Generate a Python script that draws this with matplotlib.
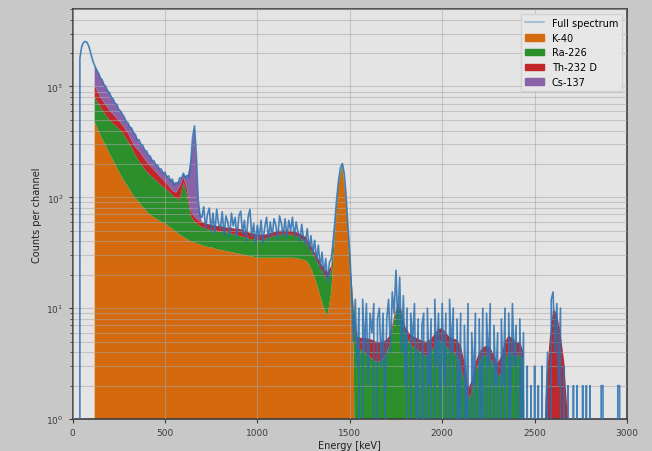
import matplotlib
matplotlib.use('Agg')
import matplotlib.pyplot as plt
from matplotlib.lines import Line2D
from matplotlib.patches import Patch
import numpy as np

# ----------------------------------------------------------------------------------------------------------------------
# measured spectrum, 10 keV channels starting at 0 keV
full_spectrum = [
    0, 0, 0, 0, 1800, 2300, 2500, 2550, 2480, 2250,
    1950, 1700, 1540, 1420, 1330, 1200, 1150, 1040, 1000, 910,
    880, 800, 770, 700, 690, 620, 600, 560, 530, 480,
    470, 430, 420, 380, 370, 330, 330, 300, 295, 265,
    262, 240, 236, 215, 214, 196, 195, 180, 180, 165,
    168, 152, 156, 140, 146, 128, 136, 132, 150, 148,
    165, 150, 158, 150, 210, 350, 440, 240, 95, 68,
    66, 82, 52, 70, 80, 50, 72, 47, 78, 58,
    52, 74, 45, 68, 60, 44, 72, 55, 66, 43,
    68, 75, 47, 62, 40, 66, 78, 44, 58, 38,
    56, 42, 62, 38, 54, 66, 41, 60, 44, 64,
    56, 42, 68, 58, 45, 64, 43, 62, 50, 66,
    44, 60, 48, 40, 57, 42, 38, 52, 34, 45,
    31, 41, 27, 37, 23, 32, 20, 28, 17, 26,
    28, 40, 62, 100, 145, 185, 202, 165, 105, 55,
    32, 14, 5, 12, 3, 10, 0, 12, 4, 11,
    2, 9, 6, 11, 0, 8, 10, 3, 9, 1,
    8, 12, 4, 14, 9, 22, 7, 19, 4, 13,
    2, 10, 0, 9, 5, 11, 1, 8, 0, 7,
    9, 0, 10, 2, 8, 0, 12, 3, 9, 1,
    11, 2, 9, 0, 12, 4, 10, 0, 8, 1,
    9, 0, 7, 1, 11, 0, 6, 2, 9, 0,
    8, 1, 10, 0, 9, 3, 11, 0, 7, 2,
    6, 0, 8, 2, 10, 0, 9, 1, 11, 3,
    7, 0, 8, 1, 6, 0, 3, 0, 2, 0,
    3, 0, 2, 0, 3, 0, 1, 4, 0, 12,
    14, 4, 11, 2, 10, 0, 3, 0, 2, 0,
    0, 2, 0, 2, 0, 0, 2, 0, 2, 0,
    2, 0, 0, 0, 0, 0, 2, 2, 0, 0,
    0, 0, 0, 0, 0, 2, 2, 0, 0, 0,
]
channel_energy = np.arange(len(full_spectrum)) * 10

# fitted components, 20 keV steps from 120 keV to 2700 keV
comp_energy = np.arange(120, 2701, 20)

k40 = [
    480, 400, 340, 290, 250, 215, 185, 160, 140, 125,
    110, 98, 90, 82, 75, 70, 66, 63, 60, 58,
    55, 52, 49, 46, 44, 42, 40, 39, 38, 37,
    36, 35.5, 35, 34, 33.5, 33, 32.5, 32, 31.5, 31,
    30.5, 30, 29.5, 29, 28.5, 28.5, 28.5, 28.5, 28.5, 28.5,
    28.5, 28.5, 28.5, 28.5, 28.5, 28, 27.5, 27, 25, 21,
    17, 13, 10, 8.5, 14, 45, 130, 190, 90, 22,
    5, 0, 0, 0, 0, 0, 0, 0, 0, 0,
    0, 0, 0, 0, 0, 0, 0, 0, 0, 0,
    0, 0, 0, 0, 0, 0, 0, 0, 0, 0,
    0, 0, 0, 0, 0, 0, 0, 0, 0, 0,
    0, 0, 0, 0, 0, 0, 0, 0, 0, 0,
    0, 0, 0, 0, 0, 0, 0, 0, 0, 0,
]
ra226 = [
    320, 300, 280, 260, 250, 245, 245, 240, 220, 195,
    170, 142, 122, 108, 97, 88, 82, 75, 68, 62,
    58, 53, 49, 50, 91, 63, 28, 21, 18, 17,
    16, 15.5, 15, 16, 15.5, 16, 15.5, 15, 14.5, 14,
    13.5, 13, 12.5, 13, 12.5, 12.5, 13.5, 14.5, 15.5, 16.5,
    17.5, 17.5, 17.5, 17.5, 16.5, 16, 14.5, 13, 10, 10,
    10, 10, 10, 9.5, 8, 7, 8, 8, 7, 6,
    5, 4.5, 4.2, 4.0, 3.7, 3.5, 3.3, 3.3, 3.5, 3.9,
    5.0, 8.0, 10.5, 9.0, 6.0, 5.0, 4.5, 4.3, 4.0, 3.8,
    3.7, 4.0, 4.6, 5.0, 5.0, 4.6, 4.2, 4.0, 3.7, 3.0,
    2.2, 1.5, 1.7, 2.6, 3.3, 3.7, 3.8, 3.6, 3.0, 2.4,
    2.6, 3.5, 4.0, 3.8, 3.6, 3.9, 3.2, 0, 0, 0,
    0, 0, 0, 0, 0, 0, 0, 0, 0, 0,
]
th232 = [
    220, 180, 140, 130, 110, 100, 85, 70, 65, 60,
    45, 42, 50, 45, 38, 34, 30, 25, 22, 18,
    15, 10, 12, 29, 17, 13, 8, 7, 6, 6,
    6, 6, 6, 5, 6, 5, 5, 6, 6, 7,
    7, 6, 6, 5, 5, 5, 4, 4, 4, 4,
    4, 4, 4, 4, 4, 4, 4, 4, 4, 3,
    3, 3, 3, 3, 2, 2, 1, 1, 1, 1,
    1, 1, 1.2, 1.4, 1.6, 1.7, 1.7, 1.6, 1.5, 1.3,
    0.8, 0.5, 0.5, 0.5, 0.8, 1.0, 1.1, 1.1, 1.2, 1.2,
    1.3, 1.3, 1.3, 1.5, 1.6, 1.4, 1.3, 1.3, 1.5, 1.6,
    1.1, 0.4, 0.5, 0.6, 0.7, 0.7, 0.8, 0.8, 0.8, 0.8,
    1.1, 1.5, 1.7, 1.5, 1.3, 1.1, 0.8, 0, 0, 0,
    0, 0, 1.5, 5.0, 9.8, 9.0, 6.0, 3.3, 1.0, 0,
]
cs137 = [
    500, 420, 370, 300, 250, 200, 155, 120, 95, 80,
    90, 80, 55, 50, 45, 38, 30, 27, 25, 24,
    22, 25, 22, 17, 10, 32, 134, 363, 26, 0,
] + [0] * 100

labels = ['K-40', 'Ra-226', 'Th-232 D', 'Cs-137']
colours = ['#d4690d', '#2b8f2b', '#c0262a', '#8a62a8']
line_colour = '#2a70b0'

# ----------------------------------------------------------------------------------------------------------------------
fig = plt.figure(figsize=(6.52, 4.52), dpi=100, facecolor='#c8c8c8')
ax = fig.add_axes([0.1112, 0.0708, 0.8505, 0.9071])
ax.set_facecolor('#e4e4e4')

# stacked components
stack = np.cumsum(np.array([k40, ra226, th232, cs137], dtype=float), axis=0)
floor = 0.01
lower = np.full(len(comp_energy), floor)
for i in range(4):
    upper = np.maximum(stack[i], floor)
    ax.fill_between(comp_energy, lower, upper, color=colours[i], linewidth=0, zorder=2)
    lower = upper

ax.plot(channel_energy, full_spectrum, color=line_colour, linewidth=1.2, alpha=0.85, zorder=3)

ax.set_yscale('log')
ax.set_xlim(0, 3000)
ax.set_ylim(1, 5000)
ax.set_xticks([0, 500, 1000, 1500, 2000, 2500, 3000])

ax.grid(True, which='major', color='#a8a8a8', alpha=0.55, linewidth=0.8, zorder=4)
ax.grid(True, which='minor', axis='y', color='#a8a8a8', alpha=0.55, linewidth=0.8, zorder=4)
ax.set_axisbelow(False)

for s in ax.spines.values():
    s.set_color('#3c3c3c')
    s.set_linewidth(1.2)
ax.tick_params(which='both', colors='#3c3c3c', labelsize=6.5, length=3)
ax.tick_params(which='minor', length=2)

ax.set_xlabel('Energy [keV]', fontsize=7, color='#222222', labelpad=2)
ax.set_ylabel('Counts per channel', fontsize=7, color='#222222', labelpad=3)

handles = [Line2D([], [], color=line_colour, linewidth=1.2, alpha=0.4)]
handles += [Patch(color=c) for c in colours]
leg = ax.legend(handles, ['Full spectrum'] + labels, loc='upper right', fontsize=7,
                frameon=True, facecolor='#e8e8e8', edgecolor='#d0d0d0', framealpha=0.9)

fig.savefig('out.png', dpi=100, facecolor=fig.get_facecolor())
